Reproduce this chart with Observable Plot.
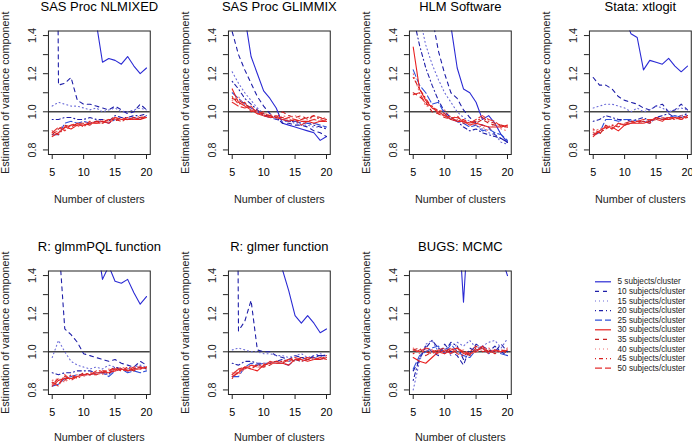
<!DOCTYPE html>
<html><head><meta charset="utf-8">
<script src="https://cdn.jsdelivr.net/npm/d3@7"></script>
<script src="https://cdn.jsdelivr.net/npm/@observablehq/plot@0.6"></script>
<style>
html,body{margin:0;padding:0;background:#fff;}
#chart{position:relative;width:692px;height:443px;overflow:hidden;background:#fff;font-family:"Liberation Sans",Arial,Helvetica,sans-serif;}
#chart svg{position:absolute;overflow:visible;background:transparent;}
</style></head><body><div id="chart"></div>
<script>
const clusters = [5,6,7,8,9,10,11,12,13,14,15,16,17,18,19,20];
const subjects = [5,10,15,20,25,30,35,40,45,50];
const panelTitles = ["SAS Proc NLMIXED","SAS Proc GLIMMIX","HLM Software","Stata: xtlogit","R: glmmPQL function","R: glmer function","BUGS: MCMC"];
const xTicks = [5,10,15,20];
const yTicks = [0.8,0.9,1.0,1.1,1.2,1.3,1.4];
const yTickLabels = ["0.8","1.0","1.2","1.4"];
const xTitle = "Number of clusters";
const yTitle = "Estimation of variance component";

// one row per subjects/cluster (5..50), one value per number of clusters (5..20)
const nlmixed = [
  [4.5,3.8,3.0,2.5,2.2,1.9,1.75,1.47,1.26,1.28,1.27,1.25,1.29,1.24,1.20,1.23],
  [6.0,1.14,1.15,1.18,1.06,1.04,1.04,1.03,1.02,1.01,1.03,1.01,0.99,1.00,1.04,1.01],
  [1.03,1.05,1.04,1.03,1.03,1.02,1.01,1.02,1.00,1.01,1.02,1.00,1.00,1.01,1.02,1.01],
  [0.96,0.96,0.97,0.97,0.96,0.96,0.97,0.96,0.96,0.95,0.98,0.97,0.97,0.98,0.98,0.99],
  [0.88,0.88,0.94,0.95,0.94,0.95,0.94,0.95,0.95,0.94,0.96,0.96,0.96,0.97,0.96,0.98],
  [0.87,0.89,0.92,0.91,0.93,0.93,0.94,0.94,0.95,0.94,0.97,0.96,0.96,0.96,0.96,0.97],
  [0.88,0.91,0.93,0.92,0.94,0.94,0.93,0.95,0.94,0.96,0.95,0.97,0.96,0.97,0.97,0.96],
  [0.89,0.90,0.91,0.93,0.92,0.94,0.95,0.94,0.96,0.95,0.96,0.96,0.97,0.96,0.98,0.97],
  [0.90,0.88,0.92,0.93,0.93,0.93,0.94,0.95,0.95,0.96,0.96,0.95,0.96,0.97,0.96,0.98],
  [0.89,0.92,0.90,0.93,0.94,0.92,0.95,0.94,0.94,0.96,0.97,0.96,0.97,0.96,0.97,0.97]
];
const glimmix = [
  [2.2,1.8,1.5,1.29,1.20,1.11,1.07,1.02,0.94,0.93,0.92,0.91,0.90,0.89,0.85,0.87],
  [1.42,1.30,1.22,1.15,1.08,1.03,0.99,0.97,0.94,0.94,0.93,0.93,0.92,0.90,0.89,0.87],
  [1.21,1.15,1.10,1.06,1.02,0.99,0.97,0.96,0.95,0.95,0.94,0.93,0.93,0.92,0.92,0.92],
  [1.16,1.12,1.07,1.04,1.01,0.98,0.98,0.96,0.96,0.95,0.95,0.94,0.94,0.93,0.92,0.91],
  [1.10,1.07,1.04,1.02,1.00,0.98,0.97,0.97,0.96,0.95,0.95,0.94,0.94,0.94,0.93,0.92],
  [1.12,1.05,1.03,1.01,0.99,0.98,0.97,0.97,0.96,0.95,0.96,0.95,0.95,0.94,0.95,0.95],
  [1.07,1.06,1.04,1.02,1.00,0.99,0.98,0.97,1.00,0.98,0.97,0.98,0.96,0.98,0.97,0.96],
  [1.06,1.08,1.03,1.01,1.00,0.98,0.99,0.96,0.98,0.97,0.98,0.96,0.97,0.96,0.97,0.95],
  [1.08,1.04,1.05,1.00,1.01,0.98,0.98,0.97,0.97,0.96,0.95,0.96,0.97,0.98,0.96,0.97],
  [1.05,1.03,1.02,1.03,0.99,1.00,0.97,0.98,0.96,0.97,0.96,0.93,0.95,0.96,0.95,0.96]
];
const hlm = [
  [3.0,2.6,2.3,2.0,1.8,1.6,1.45,1.23,1.12,1.10,1.05,0.96,0.98,0.94,0.88,0.84],
  [2.4,2.0,1.75,1.5,1.32,1.20,1.10,1.07,1.01,0.97,0.94,0.93,0.92,0.88,0.86,0.84],
  [1.70,1.50,1.35,1.25,1.17,1.10,1.05,1.00,0.97,0.95,0.93,0.91,0.89,0.88,0.84,0.83],
  [1.50,1.35,1.23,1.14,1.06,1.00,0.97,0.95,0.92,0.90,0.91,0.89,0.88,0.87,0.86,0.84],
  [1.22,1.14,1.10,1.04,1.05,0.99,0.96,0.95,0.94,0.92,0.93,0.90,0.91,0.89,0.88,0.85],
  [1.34,1.12,1.06,1.02,1.00,0.98,0.96,0.95,0.95,0.93,0.94,0.93,0.92,0.92,0.92,0.93],
  [1.10,1.08,1.05,1.00,0.99,0.97,0.96,0.98,0.94,0.95,0.94,0.96,0.94,0.93,0.93,0.92],
  [1.20,1.10,1.03,1.03,1.00,1.01,0.97,0.96,0.95,0.94,0.93,0.92,0.90,0.94,0.91,0.90],
  [1.18,1.12,1.07,1.02,1.01,0.99,0.97,0.95,0.96,0.94,0.95,0.97,0.95,0.94,0.93,0.92],
  [1.09,1.10,1.04,1.03,0.99,0.98,0.97,0.97,0.95,0.94,0.96,0.98,0.96,0.95,0.92,0.92]
];
const stata = [
  [3.5,3.0,2.6,2.2,1.9,1.5,1.41,1.39,1.22,1.27,1.26,1.25,1.28,1.24,1.21,1.24],
  [1.18,1.14,1.14,1.12,1.08,1.06,1.05,1.04,1.02,1.01,1.03,1.04,1.00,1.01,1.04,1.01],
  [1.02,1.03,1.04,1.04,1.03,1.02,1.00,1.02,1.00,1.01,1.03,1.02,1.00,1.01,1.02,1.01],
  [0.95,0.96,0.98,0.97,0.96,0.96,0.95,0.96,0.97,0.95,0.97,0.98,0.99,0.97,0.98,0.99],
  [0.88,0.89,0.96,0.96,0.95,0.96,0.96,0.95,0.95,0.94,0.97,0.96,0.97,0.98,0.97,0.98],
  [0.87,0.90,0.92,0.92,0.90,0.93,0.94,0.94,0.94,0.95,0.97,0.96,0.96,0.97,0.96,0.98],
  [0.89,0.88,0.93,0.91,0.94,0.93,0.95,0.94,0.95,0.95,0.96,0.97,0.96,0.97,0.97,0.97],
  [0.90,0.91,0.92,0.93,0.93,0.94,0.94,0.95,0.94,0.96,0.96,0.97,0.97,0.96,0.98,0.97],
  [0.91,0.89,0.91,0.93,0.92,0.94,0.95,0.95,0.95,0.94,0.97,0.96,0.97,0.96,0.97,0.98],
  [0.88,0.90,0.92,0.91,0.94,0.93,0.94,0.95,0.96,0.96,0.96,0.95,0.97,0.97,0.96,0.97]
];
const glmmpql = [
  [5.0,4.4,3.8,3.2,2.8,2.4,2.0,1.6,1.38,1.45,1.37,1.36,1.38,1.31,1.25,1.29],
  [6.0,1.60,1.12,1.09,1.05,0.99,0.98,0.97,0.96,0.95,0.96,0.94,0.93,0.92,0.95,0.93],
  [0.97,1.06,1.00,0.95,0.93,0.92,0.91,0.92,0.91,0.93,0.92,0.91,0.91,0.92,0.93,0.92],
  [0.89,0.88,0.89,0.89,0.90,0.90,0.90,0.89,0.89,0.88,0.92,0.91,0.90,0.91,0.92,0.91],
  [0.82,0.83,0.86,0.87,0.88,0.88,0.88,0.89,0.89,0.87,0.90,0.91,0.89,0.90,0.89,0.90],
  [0.82,0.85,0.86,0.86,0.87,0.88,0.88,0.89,0.89,0.89,0.90,0.91,0.90,0.91,0.91,0.92],
  [0.84,0.83,0.87,0.86,0.87,0.89,0.88,0.88,0.89,0.90,0.92,0.90,0.91,0.90,0.92,0.91],
  [0.85,0.86,0.84,0.87,0.88,0.87,0.89,0.89,0.88,0.91,0.90,0.92,0.91,0.92,0.91,0.92],
  [0.83,0.86,0.85,0.88,0.86,0.88,0.88,0.90,0.90,0.89,0.91,0.90,0.92,0.91,0.91,0.92],
  [0.84,0.82,0.88,0.85,0.87,0.88,0.89,0.88,0.90,0.90,0.91,0.91,0.90,0.92,0.92,0.91]
];
const glmer = [
  [5.0,4.4,3.8,3.2,2.8,2.4,2.0,1.7,1.43,1.32,1.19,1.15,1.19,1.15,1.10,1.12],
  [6.0,1.11,1.16,1.27,1.01,1.00,1.00,0.98,0.97,0.96,0.98,0.97,0.96,0.98,0.98,0.97],
  [1.01,1.02,1.01,1.00,1.00,0.99,0.99,0.98,0.98,0.97,0.98,0.99,0.97,0.98,0.99,0.98],
  [0.94,0.93,0.95,0.95,0.94,0.94,0.94,0.95,0.96,0.95,0.96,0.97,0.97,0.97,0.98,0.98],
  [0.87,0.87,0.92,0.94,0.93,0.94,0.94,0.94,0.94,0.93,0.96,0.95,0.96,0.97,0.96,0.97],
  [0.87,0.89,0.92,0.91,0.90,0.93,0.94,0.94,0.94,0.93,0.96,0.96,0.95,0.96,0.96,0.97],
  [0.88,0.91,0.92,0.92,0.93,0.92,0.93,0.95,0.94,0.96,0.95,0.97,0.96,0.96,0.97,0.96],
  [0.89,0.88,0.91,0.93,0.92,0.94,0.94,0.94,0.95,0.95,0.96,0.95,0.97,0.96,0.97,0.97],
  [0.86,0.90,0.92,0.91,0.93,0.93,0.94,0.95,0.95,0.96,0.96,0.95,0.96,0.97,0.96,0.98],
  [0.88,0.91,0.91,0.93,0.92,0.92,0.95,0.94,0.94,0.96,0.97,0.96,0.97,0.96,0.97,0.96]
];
const bugs = [
  [2.8,2.6,2.4,2.2,2.1,2.0,1.9,1.8,1.26,1.80,1.75,1.70,1.65,1.60,1.50,1.40],
  [0.90,0.96,1.03,1.00,0.98,1.04,1.00,0.98,0.93,1.02,1.00,1.03,1.01,1.00,1.04,1.00],
  [0.80,0.95,1.04,1.06,1.00,1.02,0.98,1.05,1.03,1.06,1.02,1.03,1.05,1.06,1.02,1.07],
  [0.85,0.97,1.02,1.06,1.02,1.00,1.05,1.03,0.96,0.99,1.04,1.02,1.00,1.03,1.00,0.98],
  [0.91,0.98,1.00,1.02,1.03,0.99,1.04,1.00,0.98,0.97,1.01,1.02,0.99,1.01,0.99,0.98],
  [0.97,0.95,0.94,0.97,1.00,0.99,1.01,1.02,0.99,0.99,1.00,1.03,1.00,1.01,1.00,1.01],
  [1.01,1.02,0.98,1.00,1.01,1.02,0.99,1.01,1.00,0.98,1.02,1.02,1.00,1.00,1.01,0.99],
  [1.02,0.99,1.01,1.00,0.99,1.00,1.02,1.00,1.01,0.99,1.00,1.01,1.02,1.00,1.00,1.02],
  [0.99,1.01,1.00,0.99,1.01,1.00,1.02,0.99,0.98,1.00,1.03,1.00,1.01,0.99,1.01,1.00],
  [1.01,1.00,1.02,1.01,0.99,1.01,0.99,1.02,1.00,0.99,1.01,1.02,0.99,1.01,1.00,1.01]
];
const panelData = [nlmixed, glimmix, hlm, stata, glmmpql, glmer, bugs];

// styles
const seriesColors = ["#2a2ad4","#1e1ea8","#6a6ad8","#1e1ea8","#3050d8","#e82020","#c82020","#ee7070","#d82020","#e43030"];
const seriesDash = [null,"4,4","1,3","1,3,4,3","7,3",null,"4,4","1,3","1,3,4,3","7,3"];

const FONT = "'Liberation Sans', Arial, Helvetica, sans-serif";
const chart = document.getElementById("chart");

function makePanel(title, series, col, row) {
  const lineMarks = series.map((vals, s) =>
    Plot.line(clusters.map((n, i) => ({n, v: vals[i]})), {
      x: "n", y: "v", stroke: seriesColors[s], strokeWidth: 1.1,
      strokeDasharray: seriesDash[s] || undefined, clip: true
    })
  );
  const svg = Plot.plot({
    width: 180, height: 220,
    marginLeft: 47.94, marginRight: 30.24, marginTop: 30.5, marginBottom: 66,
    x: {domain: [4.4, 20.6]},
    y: {domain: [0.776, 1.424]},
    style: {fontFamily: FONT, fontSize: "10.8px", background: "transparent", overflow: "visible", color: "#000"},
    marks: [
      Plot.ruleY([1], {stroke: "#444", strokeWidth: 1.4}),
      ...lineMarks,
      Plot.frame({stroke: "#222", strokeWidth: 1}),
      Plot.axisX({ticks: xTicks, tickSize: 5, tickPadding: 9, label: null, fontSize: 10.8, stroke: "#222"}),
      Plot.axisY({ticks: yTicks, tickSize: 5, tickFormat: () => "", label: null, stroke: "#222"}),
      Plot.text(yTickLabels, {y: d => +d, text: d => d, frameAnchor: "left", dx: -16, rotate: -90, textAnchor: "middle", lineAnchor: "middle", fontSize: 10.8, fill: "#222"}),
      Plot.text([title], {text: d => d, frameAnchor: "top", dy: -24.5, textAnchor: "middle", lineAnchor: "middle", fontSize: 13, fill: "#000"}),
      Plot.text([xTitle], {text: d => d, frameAnchor: "bottom", dy: row === 0 ? 45 : 43, textAnchor: "middle", lineAnchor: "middle", fontSize: 10.8, fill: "#222"}),
      Plot.text([yTitle], {text: d => d, frameAnchor: "left", dx: -43.3, rotate: -90, textAnchor: "middle", lineAnchor: "middle", fontSize: 10.8, fill: "#222"})
    ]
  });
  svg.style.left = (180.3 * col) + "px";
  svg.style.top = (240 * row) + "px";
  chart.appendChild(svg);
}

panelTitles.forEach((t, p) => makePanel(t, panelData[p], p % 4, Math.floor(p / 4)));

// legend
const legend = Plot.plot({
  width: 175, height: 221,
  marginLeft: 0, marginRight: 0, marginTop: 59.3, marginBottom: 221 - 145.7,
  x: {domain: [0, 175]},
  y: {domain: [9, 0]},
  style: {fontFamily: FONT, fontSize: "8.2px", background: "transparent", overflow: "visible"},
  axis: null,
  marks: [
    ...subjects.map((s, k) => Plot.ruleY([k], {y: d => d, x1: 78, x2: 94, stroke: seriesColors[k], strokeWidth: 1.2, strokeDasharray: seriesDash[k] || undefined})),
    Plot.text(subjects, {x: 100, y: (d, i) => i, text: d => `${d} subjects/cluster`, textAnchor: "start", lineAnchor: "middle", fontSize: 8.2, fill: "#222"})
  ]
});
legend.style.left = "517px";
legend.style.top = "222px";
chart.appendChild(legend);
</script>
</body></html>
